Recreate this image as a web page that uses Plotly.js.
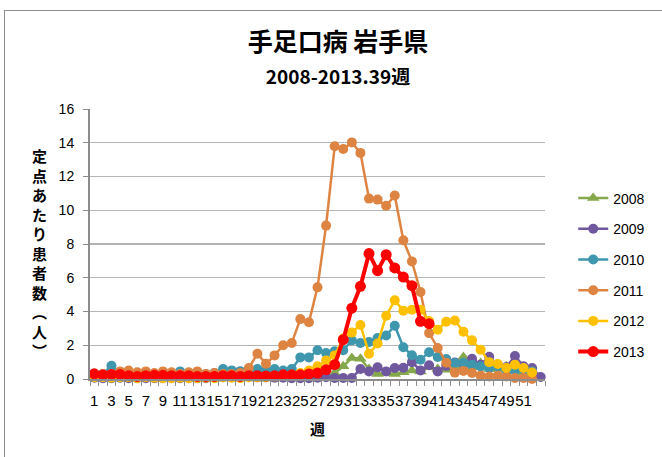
<!DOCTYPE html>
<html>
<head>
<meta charset="utf-8">
<script src="https://cdn.plot.ly/plotly-3.0.1.min.js"></script>
<style>
  html, body { margin: 0; padding: 0; background: #fff; }
  #chart { width: 662px; height: 457px; position: relative; }
  #frame { position: absolute; left: 4px; top: 10px; width: 700px; height: 500px;
           border: 1px solid #8c8c8c; pointer-events: none; box-sizing: border-box; }
</style>
</head>
<body>
<div id="chart"></div>
<div id="frame"></div>
<script>
// ---- data ----
const weeks = [1,2,3,4,5,6,7,8,9,10,11,12,13,14,15,16,17,18,19,20,21,22,23,24,25,26,
  27,28,29,30,31,32,33,34,35,36,37,38,39,40,41,42,43,44,45,46,47,48,49,50,51,52,53];
const xTickWeeks = [1,3,5,7,9,11,13,15,17,19,21,23,25,27,29,31,33,35,37,39,41,43,45,47,49,51];
const seriesNames = ['2008','2009','2010','2011','2012','2013'];

const v2008 = [0.05,0.03,0.03,0.05,0.03,0.03,0.05,0.05,0.03,0.02,0.03,0.02,0.03,0.02,0.02,0.05,0.03,0.03,0.05,0.02,
  0.03,0.05,0.05,0.05,0.08,0.08,0.1,0.15,0.35,0.75,1.25,1.2,0.6,0.3,0.35,0.3,0.4,0.5,0.45,0.7,
  0.6,0.55,0.7,1.3,0.7,0.95,0.6,0.6,0.75,0.45,0.35,0.2];
const v2009 = [0.08,0.05,0.05,0.08,0.05,0.05,0.05,0.05,0.05,0.05,0.05,0.05,0.05,0.05,0.08,0.1,0.2,0.45,0.2,0.1,
  0.1,0.08,0.08,0.05,0.05,0.05,0.08,0.1,0.06,0.06,0.06,0.59,0.45,0.69,0.45,0.65,0.67,1.0,0.51,0.81,
  0.45,0.78,0.98,0.85,1.2,0.85,1.32,0.8,0.7,1.36,0.75,0.65,0.12];
const v2010 = [0.3,0.3,0.79,0.35,0.3,0.3,0.25,0.25,0.2,0.25,0.45,0.3,0.25,0.3,0.35,0.59,0.51,0.45,0.4,0.59,
  0.5,0.59,0.5,0.59,1.28,1.28,1.7,1.54,1.64,1.7,2.29,2.13,2.19,2.43,2.58,3.16,1.88,1.41,1.14,1.59,
  1.3,1.19,0.95,0.97,0.85,0.75,0.65,0.75,0.5,0.5,0.6,0.45];
const v2011 = [0.3,0.3,0.3,0.45,0.5,0.4,0.45,0.35,0.45,0.4,0.3,0.4,0.45,0.3,0.35,0.3,0.3,0.35,0.65,1.5,
  0.9,1.4,2.0,2.13,3.55,3.36,5.43,9.09,13.79,13.63,14.02,13.4,10.69,10.63,10.27,10.87,8.22,6.97,5.16,2.72,
  1.84,0.97,0.38,0.48,0.36,0.2,0.15,0.2,0.15,0.06,0.06,0.0];
const v2012 = [0.1,0.1,0.08,0.1,0.1,0.05,0.1,0.08,0.05,0.05,0.08,0.05,0.05,0.08,0.05,0.1,0.08,0.05,0.1,0.1,
  0.1,0.15,0.2,0.25,0.35,0.5,0.75,1.1,1.4,2.4,2.75,3.2,1.5,2.1,3.75,4.66,4.05,4.1,4.1,3.44,
  2.92,3.4,3.47,2.8,2.29,1.74,1.0,0.89,0.65,0.85,0.65,0.39];
const v2013 = [0.31,0.24,0.27,0.27,0.2,0.15,0.2,0.22,0.22,0.2,0.2,0.2,0.15,0.15,0.15,0.2,0.2,0.15,0.2,0.2,
  0.18,0.2,0.25,0.25,0.25,0.3,0.35,0.55,0.85,2.33,4.2,5.49,7.43,6.42,7.37,6.58,6.04,5.53,3.42,3.28];

const seriesValues = [v2008, v2009, v2010, v2011, v2012, v2013];
const colors = ['#86a84c', '#6f589e', '#3f97ae', '#de8442', '#ffc000', '#ff0000'];
const symbols = ['triangle-up', 'circle', 'circle', 'circle', 'circle', 'circle'];
const lineWidths = [2.5, 2.5, 2.5, 2.5, 2.5, 4];
const markerSizes = [11, 10, 10, 10, 10, 11];

const traces = seriesNames.map((name, i) => ({
  type: 'scatter',
  mode: 'lines+markers',
  name: name,
  legendgroup: name,
  x: weeks.slice(0, seriesValues[i].length),
  y: seriesValues[i],
  line: { color: colors[i], width: lineWidths[i] },
  marker: { color: colors[i], size: markerSizes[i], symbol: symbols[i] },
  cliponaxis: false
}));

const minorTicks = [];
for (let k = 0; k <= weeks.length; k++) minorTicks.push(0.5 + k);

const layout = {
  width: 662, height: 457,
  margin: { l: 90, r: 115, t: 109, b: 78 },
  paper_bgcolor: '#ffffff', plot_bgcolor: '#ffffff',
  font: { family: 'Liberation Sans, Arial, sans-serif', color: '#000' },
  title: {
    text: '手足口病 岩手県<br><span style="font-size:19px">2008-2013.39週</span>',
    font: { family: 'Noto Sans CJK JP', size: 25, weight: 'bold', color: '#000' },
    x: 338 / 662, xanchor: 'center', xref: 'container',
    y: 1 - 51 / 457, yanchor: 'top', yref: 'container'
  },
  xaxis: {
    range: [0.5, weeks.length + 0.5],
    tickmode: 'array', tickvals: xTickWeeks, ticktext: xTickWeeks.map(String),
    ticks: '', showgrid: false, zeroline: false,
    showline: true, linecolor: '#8c8c8c', linewidth: 1.5,
    tickfont: { size: 15, color: '#000' }, tickangle: 0, ticklabelstandoff: 7,
    minor: { tickmode: 'array', tickvals: minorTicks, ticks: 'outside', ticklen: 5,
             tickcolor: '#8c8c8c', tickwidth: 1, showgrid: false },
    title: { text: '週', font: { family: 'Noto Sans CJK JP', size: 15, weight: 'bold' }, standoff: 17 }
  },
  yaxis: {
    range: [0, 16], dtick: 2, tick0: 0,
    showgrid: true, gridcolor: '#b4b4b4', gridwidth: 1.3, zeroline: false,
    showline: true, linecolor: '#8c8c8c', linewidth: 2,
    ticks: 'outside', ticklen: 5, tickcolor: '#8c8c8c', tickwidth: 1,
    tickfont: { size: 14, color: '#000' }, ticklabelstandoff: 6
  },
  showlegend: true,
  legend: {
    x: 1.062, xanchor: 'left', y: (379 - 275) / 270, yanchor: 'middle',
    font: { size: 14, color: '#000' },
    tracegroupgap: 9.5, bgcolor: 'rgba(0,0,0,0)'
  },
  annotations: [{
    text: '定<br>点<br>あ<br>た<br>り<br>患<br>者<br>数<br>︵<br>人<br>︶',
    xref: 'paper', yref: 'paper',
    x: (39 - 90) / 457, y: (379 - 253) / 270, xanchor: 'center', yanchor: 'middle',
    showarrow: false,
    font: { family: 'Noto Sans CJK JP', size: 15, weight: 'bold', color: '#000' }
  }]
};

Plotly.newPlot('chart', traces, layout, { displayModeBar: false, staticPlot: true });
</script>
</body>
</html>
